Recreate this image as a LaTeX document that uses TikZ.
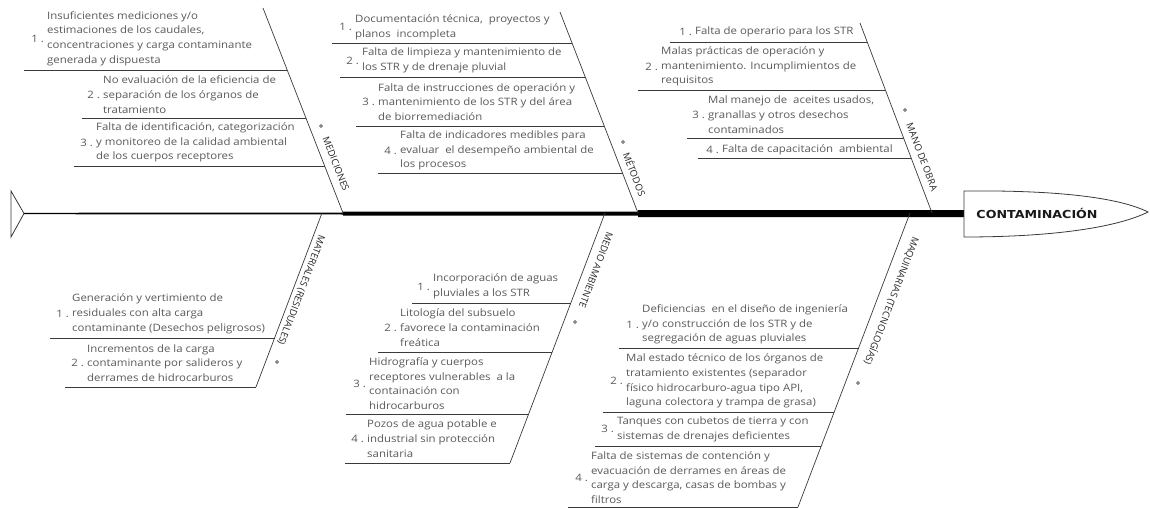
\documentclass[tikz,border=0pt]{standalone}
\usepackage{fontspec}
\setmainfont{Open Sans}
\newfontfamily\bodyfont[FakeStretch=1.12]{Open Sans}
\newfontfamily\headfont[FakeStretch=1.15]{DejaVu Sans}
\definecolor{txtgray}{HTML}{5A5A5A}
\definecolor{linegray}{HTML}{3A3A3A}
\tikzset{
 item/.style={font=\bodyfont\fontsize{10.2}{14.7}\selectfont, text=txtgray, align=left, inner sep=0pt, anchor=west},
 num/.style={font=\bodyfont\fontsize{10.2}{12}\selectfont, text=txtgray, inner sep=0pt, anchor=east},
 uline/.style={draw=linegray, line width=0.9pt},
 bone/.style={draw=linegray, line width=0.7pt},
 cat/.style={font=\fontsize{9.5}{11}\selectfont, text=black!85, inner sep=0pt},
 catdot/.style={circle, draw=black!70, fill=black!25, line width=0.5pt, minimum size=3pt, inner sep=0pt},
}
\begin{document}
\begin{tikzpicture}[x=1pt,y=-1pt]
\useasboundingbox[fill=white] (0,0) rectangle (1150,508);

% tail and spine
\coordinate (tail) at (24,213.5);
\coordinate (neck) at (965,213.5);
\draw[linegray, line width=0.8pt] (11,191) -- (tail) -- (11,237) -- cycle;
\fill[black] (24,212.8) -- (343,212.5) -- (343,211.5) -- (638,211.5) -- (638,210) -- (965,210)
  -- (965,217) -- (638,217) -- (638,215.5) -- (343,215.5) -- (343,214.5) -- (24,214.2) -- cycle;

% head
\draw[linegray, line width=0.8pt, fill=white] (964,191) .. controls (1060,190) and (1120,198) .. (1148,212)
  .. controls (1120,226) and (1060,237) .. (964,237) -- cycle;
\node[font=\headfont\bfseries\fontsize{11}{13}\selectfont, text=black!90] (head) at (1037,213) {CONTAMINACIÓN};

% ---------- MEDICIONES ----------
\coordinate (medT) at (263,8);
\coordinate (medB) at (343,213);
\draw[bone] (medT) -- (medB);
\node[catdot] (medD) at (321,126) {};
\node[cat, rotate=-68.7] (medL) at (336,164) {MEDICIONES};

\node[item] (med1) at (47,38.5) {Insuficientes mediciones y/o\\estimaciones de los caudales,\\concentraciones y carga contaminante\\generada y dispuesta};
\node[num] (med1n) at (44,38.5) {1 .};
\coordinate (med1a) at (24,70); \coordinate (med1b) at (287.2,70);
\draw[uline] (med1a) -- (med1b);

\node[item] (med2) at (103,94.5) {No evaluación de la eficiencia de\\separación de los órganos de\\tratamiento};
\node[num] (med2n) at (100,94.5) {2 .};
\coordinate (med2a) at (82,118); \coordinate (med2b) at (305.9,118);
\draw[uline] (med2a) -- (med2b);

\node[item] (med3) at (96,142.5) {Falta de identificación, categorización\\y monitoreo de la calidad ambiental\\de los cuerpos receptores};
\node[num] (med3n) at (93,142.5) {3 .};
\coordinate (med3a) at (74,166); \coordinate (med3b) at (324.7,166);
\draw[uline] (med3a) -- (med3b);

% ---------- METODOS ----------
\coordinate (metT) at (560,12);
\coordinate (metB) at (638,213);
\draw[bone] (metT) -- (metB);
\node[catdot] (metD) at (623,142) {};
\node[cat, rotate=-68.8] (metL) at (635,174) {MÉTODOS};

\node[item] (met1) at (355,27) {Documentación técnica,~ proyectos y\\planos~ incompleta};
\node[num] (met1n) at (352,27) {1 .};
\coordinate (met1a) at (332,43); \coordinate (met1b) at (572,43);
\draw[uline] (met1a) -- (met1b);

\node[item] (met2) at (362,60.5) {Falta de limpieza y mantenimiento de\\los STR y de drenaje pluvial};
\node[num] (met2n) at (359,60.5) {2 .};
\coordinate (met2a) at (340,77); \coordinate (met2b) at (585.2,77);
\draw[uline] (met2a) -- (met2b);

\node[item] (met3) at (378,102) {Falta de instrucciones de operación y\\mantenimiento de los STR y del área\\de biorremediación};
\node[num] (met3n) at (375,102) {3 .};
\coordinate (met3a) at (356,126); \coordinate (met3b) at (604.2,126);
\draw[uline] (met3a) -- (met3b);

\node[item] (met4) at (400,150.5) {Falta de indicadores medibles para\\evaluar~ el desempeño ambiental de\\los procesos};
\node[num] (met4n) at (397,150.5) {4 .};
\coordinate (met4a) at (378,173); \coordinate (met4b) at (622.5,173);
\draw[uline] (met4a) -- (met4b);

% ---------- MANO DE OBRA ----------
\coordinate (manT) at (860,23);
\coordinate (manB) at (932,213);
\draw[bone] (manT) -- (manB);
\node[catdot] (manD) at (905,110) {};
\node[cat, rotate=-69.2] (manL) at (922,157) {MANO DE OBRA};

\node[item] (man1) at (695,32) {Falta de operario para los STR};
\node[num] (man1n) at (692,32) {1 .};
\coordinate (man1a) at (670,42); \coordinate (man1b) at (867.2,42);
\draw[uline] (man1a) -- (man1b);

\node[item] (man2) at (661,66.5) {Malas prácticas de operación y\\mantenimiento. Incumplimientos de\\requisitos};
\node[num] (man2n) at (658,66.5) {2 .};
\coordinate (man2a) at (638,90); \coordinate (man2b) at (885.4,90);
\draw[uline] (man2a) -- (man2b);

\node[item] (man3) at (708,114.5) {Mal manejo de~ aceites usados,\\granallas y otros desechos\\contaminados};
\node[num] (man3n) at (705,114.5) {3 .};
\coordinate (man3a) at (687,138); \coordinate (man3b) at (903.6,138);
\draw[uline] (man3a) -- (man3b);

\node[item] (man4) at (722,150) {Falta de capacitación~ ambiental};
\node[num] (man4n) at (719,150) {4 .};
\coordinate (man4a) at (698,158); \coordinate (man4b) at (911.2,158);
\draw[uline] (man4a) -- (man4b);

% ---------- MATERIALES ----------
\coordinate (matT) at (322,213);
\coordinate (matB) at (256,387);
\draw[bone] (matT) -- (matB);
\node[catdot] (matD) at (277,362) {};
\node[cat, rotate=-110.8] (matL) at (301,290) {MATERIALES (RESIDUALES)};

\node[item] (mat1) at (72,314) {Generación y vertimiento de\\residuales con alta carga\\contaminante (Desechos peligrosos)};
\node[num] (mat1n) at (69,314) {1 .};
\coordinate (mat1a) at (50,338); \coordinate (mat1b) at (274.6,338);
\draw[uline] (mat1a) -- (mat1b);

\node[item] (mat2) at (87,363) {Incrementos de la carga\\contaminante por salideros y\\derrames de hidrocarburos};
\node[num] (mat2n) at (84,363) {2 .};
\coordinate (mat2a) at (65,387);
\draw[uline] (mat2a) -- (matB);

% ---------- MEDIO AMBIENTE ----------
\coordinate (ambT) at (605,213);
\coordinate (ambB) at (510,463);
\draw[bone] (ambT) -- (ambB);
\node[catdot] (ambD) at (575,322) {};
\node[cat, rotate=-110.8] (ambL) at (596,270) {MEDIO AMBIENTE};

\node[item] (amb1) at (433,286.5) {Incorporación de aguas\\pluviales a los STR};
\node[num] (amb1n) at (430,286.5) {1 .};
\coordinate (amb1a) at (412,303); \coordinate (amb1b) at (570.8,303);
\draw[uline] (amb1a) -- (amb1b);

\node[item] (amb2) at (400,327.5) {Litología del subsuelo\\favorece la contaminación\\freática};
\node[num] (amb2n) at (397,327.5) {2 .};
\coordinate (amb2a) at (378,352); \coordinate (amb2b) at (552.2,352);
\draw[uline] (amb2a) -- (amb2b);

\node[item] (amb3) at (369,383.5) {Hidrografía y cuerpos\\receptores vulnerables~ a la\\containación con\\hidrocarburos};
\node[num] (amb3n) at (366,383.5) {3 .};
\coordinate (amb3a) at (346,414); \coordinate (amb3b) at (528.6,414);
\draw[uline] (amb3a) -- (amb3b);

\node[item] (amb4) at (367,438.5) {Pozos de agua potable e\\industrial sin protección\\sanitaria};
\node[num] (amb4n) at (364,438.5) {4 .};
\coordinate (amb4a) at (345,463);
\draw[uline] (amb4a) -- (ambB);

% ---------- MAQUINARIAS ----------
\coordinate (maqT) at (910,213);
\coordinate (maqB) at (798,507);
\draw[bone] (maqT) -- (maqB);
\node[catdot] (maqD) at (858,383) {};
\node[cat, rotate=-110.9] (maqL) at (892,301) {MAQUINARIAS (TECNOLOGÍAS)};

\node[item] (maq1) at (642,324.5) {Deficiencias~ en el diseño de ingeniería\\y/o construcción de los STR y de\\segregación de aguas pluviales};
\node[num] (maq1n) at (639,324.5) {1 .};
\coordinate (maq1a) at (619,348); \coordinate (maq1b) at (858.6,348);
\draw[uline] (maq1a) -- (maq1b);

\node[item] (maq2) at (626,381) {Mal estado técnico de los órganos de\\tratamiento existentes (separador\\físico hidrocarburo-agua tipo API,\\laguna colectora y trampa de grasa)};
\node[num] (maq2n) at (623,381) {2 .};
\coordinate (maq2a) at (603,412); \coordinate (maq2b) at (834.2,412);
\draw[uline] (maq2a) -- (maq2b);

\node[item] (maq3) at (617,429) {Tanques con cubetos de tierra y con\\sistemas de drenajes deficientes};
\node[num] (maq3n) at (614,429) {3 .};
\coordinate (maq3a) at (595,446); \coordinate (maq3b) at (821.2,446);
\draw[uline] (maq3a) -- (maq3b);

\node[item] (maq4) at (591,477.5) {Falta de sistemas de contención y\\evacuación de derrames en áreas de\\carga y descarga, casas de bombas y\\filtros};
\node[num] (maq4n) at (588,477.5) {4 .};
\coordinate (maq4a) at (568,507);
\draw[uline] (maq4a) -- (maqB);

\end{tikzpicture}
\end{document}
